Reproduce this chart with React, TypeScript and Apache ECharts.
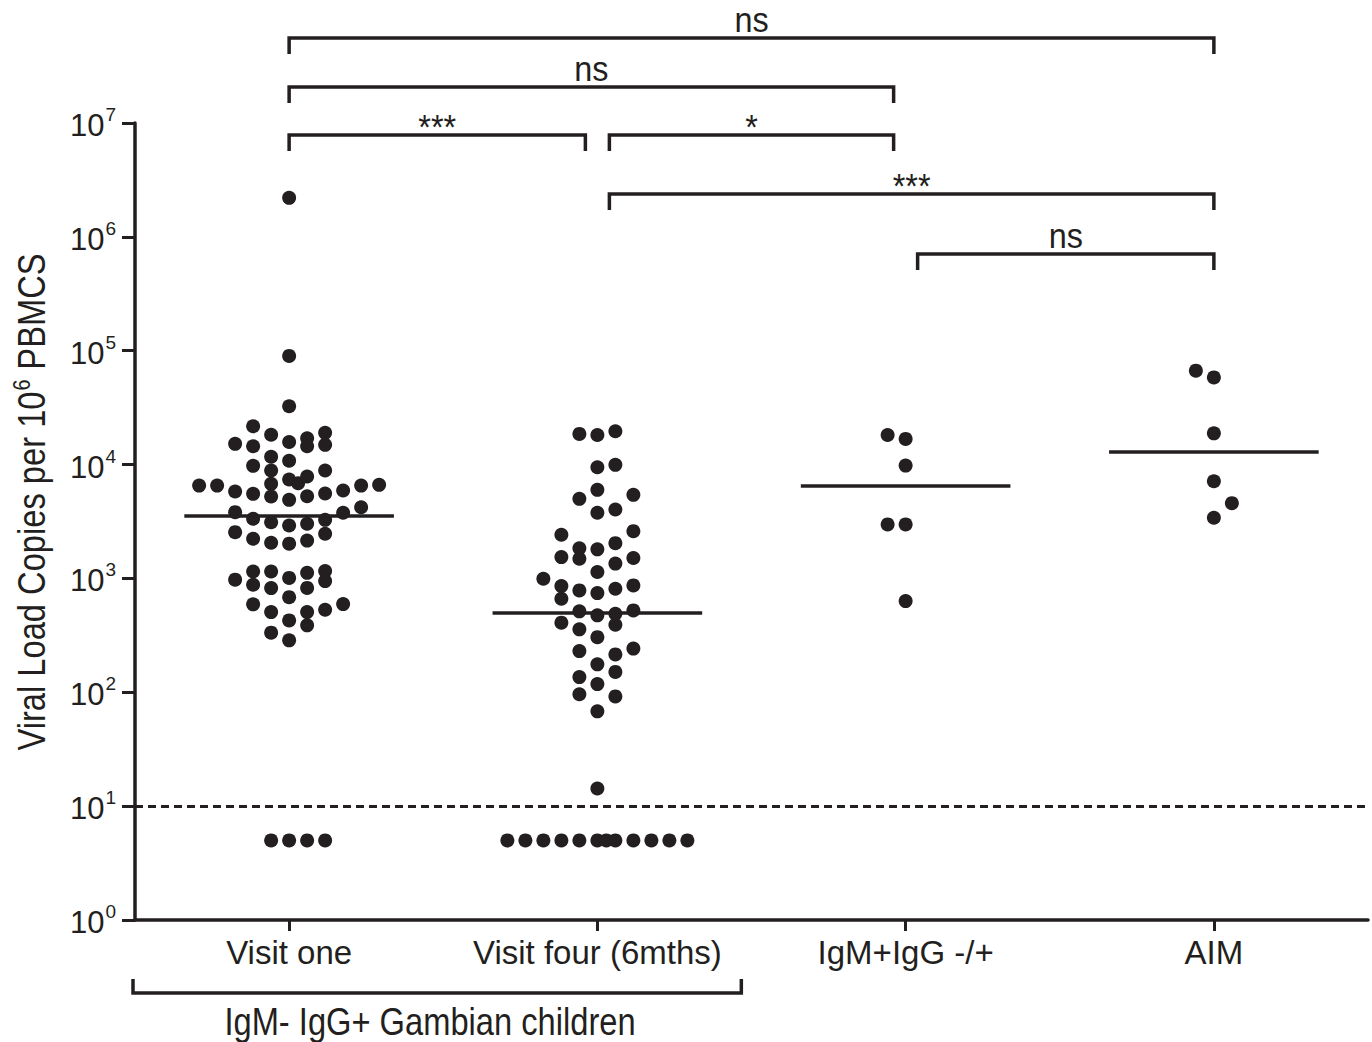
import React, { useEffect, useRef } from "react";
import * as echarts from "echarts";

const categories = ["Visit one", "Visit four (6mths)", "IgM+IgG -/+", "AIM"];

// horizontal swarm slot of each dot (one slot = one dot width) and its value
const visitOneSlots = [
  0, 0, 0, -2, -1, 2, -3, -2, 0, 1, 1, 2, -1, 0, -2, -1, 2, 0, 0.5, 1, -1,
  -5, -4, -3, -2, -1, 0, 1, 2, 3, 4, 5,
  -3, 4, 3,
  -2, -1, 0, 1, 2,
  -3, -2, -1, 0, 1, 2,
  -2, -1, 1, 2, -3, -2, 0, 2, -1, 1, 0, -2, 3, -1, 1, 2, 0, 1, -1, 0,
  -1, 0, 1, 2,
];
const visitOneValues = [
  2200000, 90000, 32500, 21700, 18300, 19000, 15200, 14500, 15800, 17000, 14500, 14900, 11700, 10800, 9740, 8860, 8860, 7390, 6860, 7850, 6770,
  6540, 6540, 5800, 5530, 5240, 4900, 5270, 5570, 5920, 6540, 6640,
  3820, 4220, 3770,
  3340, 3120, 2920, 3020, 3270,
  2550, 2230, 2060, 2020, 2150, 2470,
  1150, 1150, 1120, 1160, 975, 881, 1010, 947, 822, 826, 685, 592, 595, 506, 506, 531, 428, 387, 334, 286,
  5, 5, 5, 5,
];

const visitFourSlots = [
  -1, 0, 1, 0, 1, 0, -1, 2, 0, 1, -2, 2, -1, 0, 1, -2, -1, 2, 0, 1,
  -3, -2, -2, -1, 0, 1, 2, -1, 0, 1, 2, -2, 1, -1, 0, -1, 1, 2, 0, -1, 1, 0, -1, 1, 0, 0,
  -5, -4, -3, -2, -1, 0, 0.5, 1, 2, 3, 4, 5,
];
const visitFourValues = [
  18600, 18200, 19600, 9470, 9940, 6000, 5000, 5420, 3770, 4030, 2420, 2600, 1840, 1800, 2040, 1540, 1490, 1510, 1140, 1350,
  994, 856, 663, 785, 743, 812, 868, 514, 474, 490, 524, 409, 392, 357, 305, 230, 215, 242, 176, 136, 151, 118, 96, 92, 68, 14.3,
  5, 5, 5, 5, 5, 5, 5, 5, 5, 5, 5, 5,
];

const igmSlots = [-1, 0, 0, -1, 0, 0];
const igmValues = [18200, 16800, 9800, 2980, 2980, 632];

const aimSlots = [-1, 0, 0, 0, 1, 0];
const aimValues = [66800, 58300, 18800, 7140, 4580, 3410];

const medians = [3570, 500, 6500, 13000];
const detectionLimit = 10;

const sigPairs = [
  [0, 3],
  [0, 2],
  [0, 1],
  [1, 2],
  [1, 3],
  [2, 3],
];
const sigLabels = ["ns", "ns", "***", "*", "***", "ns"];
const groupLabel = "IgM- IgG+ Gambian children";
const groupSpan = [0, 1];

const INK = "#231f20";
const FONT = "'Liberation Sans', Arial, Helvetica, sans-serif";
const DOT_STEP = 18 / 308.25;
const MEDIAN_HALF = 0.34;
const SIG_ROWS = [38, 87, 135, 135, 194, 254];
const NARROW = 0.86;

export default function App() {
  const ref = useRef<HTMLDivElement>(null);

  useEffect(() => {
    if (!ref.current) return;
    const chart = echarts.init(ref.current, undefined, { renderer: "svg" });

    const groups = [
      [visitOneSlots, visitOneValues],
      [visitFourSlots, visitFourValues],
      [igmSlots, igmValues],
      [aimSlots, aimValues],
    ];

    const series: any[] = groups.map(([slots, values], g) => ({
      type: "scatter",
      xAxisIndex: 1,
      yAxisIndex: 0,
      symbol: "circle",
      symbolSize: 14,
      itemStyle: { color: INK, opacity: 1 },
      silent: true,
      clip: false,
      data: (values as number[]).map((v, k) => [g + (slots as number[])[k] * DOT_STEP, v]),
      markLine: {
        silent: true,
        symbol: ["none", "none"],
        label: { show: false },
        animation: false,
        data: [
          [
            { coord: [g - MEDIAN_HALF, medians[g]], lineStyle: { color: INK, width: 3.5, type: "solid" } },
            { coord: [g + MEDIAN_HALF, medians[g]] },
          ],
          ...(g === 0
            ? [{ yAxis: detectionLimit, lineStyle: { color: INK, width: 3, type: [8, 5] } }]
            : []),
        ],
      },
    }));

    chart.setOption({
      animation: false,
      backgroundColor: "#ffffff",
      grid: { left: 135, right: 4, top: 123, bottom: 122, containLabel: false },
      xAxis: [
        {
          type: "category",
          data: categories,
          boundaryGap: true,
          position: "bottom",
          axisLine: { show: true, onZero: false, lineStyle: { color: INK, width: 3.5 } },
          axisTick: { show: true, interval: 0, alignWithLabel: true, length: 11, lineStyle: { color: INK, width: 3 } },
          axisLabel: { interval: 0, color: INK, fontSize: 33, fontFamily: FONT, margin: 16 },
          splitLine: { show: false },
        },
        { type: "value", min: -0.5, max: 3.5, show: false },
      ],
      yAxis: [
        {
          type: "log",
          logBase: 10,
          min: 1,
          max: 10000000,
          splitNumber: 7,
          axisLine: { show: true, onZero: false, lineStyle: { color: INK, width: 3.5 } },
          axisTick: { show: true, length: 13, lineStyle: { color: INK, width: 3 } },
          splitLine: { show: false },
          minorTick: { show: false },
          axisLabel: {
            margin: 19,
            color: INK,
            formatter: (v: number) => `{b|10}{s|${Math.round(Math.log10(v))}}`,
            rich: {
              b: { fontSize: 31, fontFamily: FONT, color: INK, lineHeight: 36, verticalAlign: "bottom" },
              s: { fontSize: 19, fontFamily: FONT, color: INK, lineHeight: 36, verticalAlign: "top", padding: [0, 0, 14, 1] },
            },
          },
        },
      ],
      series,
    });

    const px = (v: number) => chart.convertToPixel({ xAxisIndex: 1 }, v) as unknown as number;
    const gridLeft = 135;

    const graphics: any[] = [];
    sigPairs.forEach(([a, b], i) => {
      const x1 = px(a) + (a > 0 ? 12 : 0);
      const x2 = px(b) - (b < 3 ? 12 : 0);
      const y = SIG_ROWS[i];
      graphics.push({
        type: "polyline",
        silent: true,
        shape: { points: [[x1, y + 16], [x1, y], [x2, y], [x2, y + 16]] },
        style: { stroke: INK, lineWidth: 3.5, fill: null },
      });
      const isStar = sigLabels[i].indexOf("*") >= 0;
      graphics.push({
        type: "text",
        silent: true,
        x: (x1 + x2) / 2,
        y: y - (isStar ? 9 : 19),
        scaleX: 0.9,
        style: {
          text: sigLabels[i],
          fill: INK,
          fontSize: 36,
          fontFamily: FONT,
          lineHeight: 24,
          textAlign: "center",
          textVerticalAlign: "middle",
        },
      });
    });

    const gx1 = gridLeft - 2;
    const gx2 = px(groupSpan[1] + 0.467);
    graphics.push({
      type: "polyline",
      silent: true,
      shape: { points: [[gx1, 979], [gx1, 993], [gx2, 993], [gx2, 979]] },
      style: { stroke: INK, lineWidth: 3.5, fill: null },
    });
    graphics.push({
      type: "text",
      silent: true,
      x: 430,
      y: 1022,
      scaleX: NARROW,
      style: {
        text: groupLabel,
        fill: INK,
        fontSize: 38,
        fontFamily: FONT,
        lineHeight: 30,
        textAlign: "center",
        textVerticalAlign: "middle",
      },
    });

    graphics.push({
      type: "text",
      silent: true,
      x: 31,
      y: 502,
      rotation: Math.PI / 2,
      scaleX: NARROW,
      style: {
        text: "{a|Viral Load Copies per 10}{s|6}{a| PBMCS}",
        textAlign: "center",
        textVerticalAlign: "middle",
        rich: {
          a: { fontSize: 38, fontFamily: FONT, fill: INK, lineHeight: 40, verticalAlign: "bottom" },
          s: { fontSize: 23, fontFamily: FONT, fill: INK, lineHeight: 40, verticalAlign: "top", padding: [0, 1, 14, 1] },
        },
      },
    });

    chart.setOption({ graphic: graphics });

    return () => chart.dispose();
  }, []);

  return (
    <div
      ref={ref}
      style={{ position: "fixed", left: 0, top: 0, width: 1372, height: 1042, background: "#fff" }}
    />
  );
}
